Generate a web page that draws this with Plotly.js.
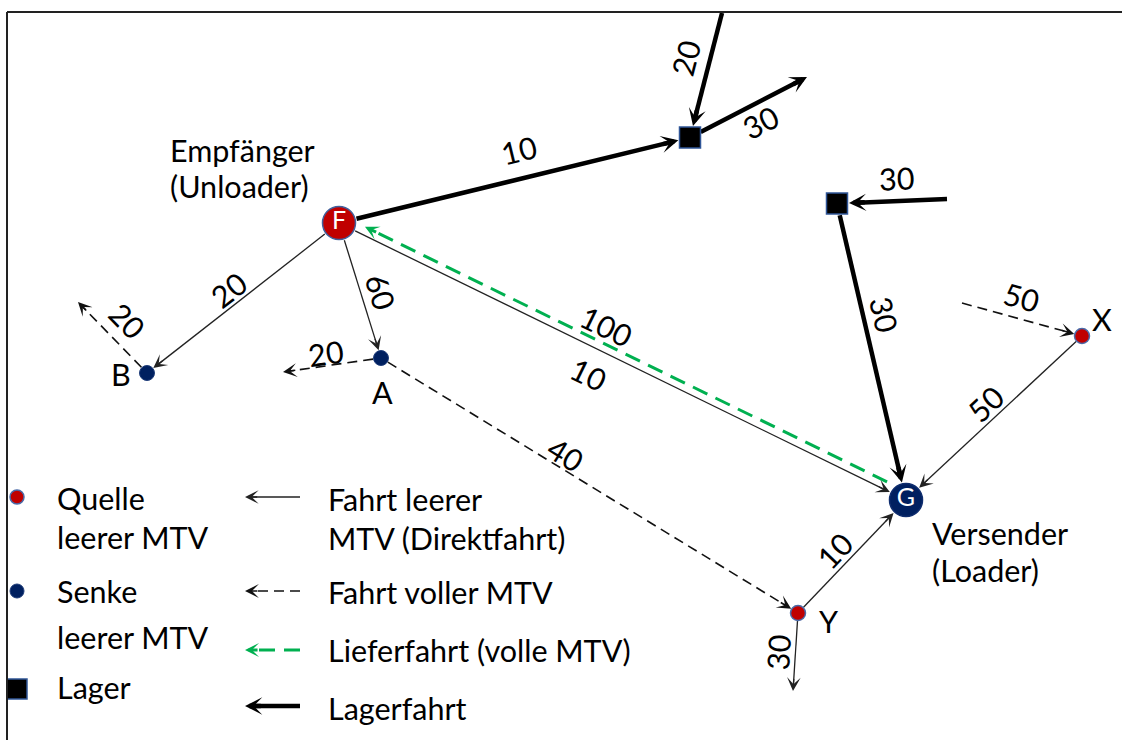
<!DOCTYPE html>
<html><head><meta charset="utf-8">
<script src="https://cdn.plot.ly/plotly-3.0.1.min.js"></script>
<style>html,body{margin:0;padding:0;background:#fff}#chart{width:1122px;height:740px}</style>
</head><body><div id="chart"></div>
<script>
// ---------------- DATA ----------------
// network nodes (diagram coordinates)
const nodeNames = ['F','G','L1','L2','A','B','X','Y','e1','e2','e3','e4','e5','e6','e7'];
const nodeX     = [339, 906, 690, 837, 381, 147, 1082, 798, 722, 807, 947, 793, 283, 78, 962];
const nodeY     = [223, 500, 137.5, 203.5, 358, 373, 336, 613, 13, 77, 199, 691, 372, 302, 303];
const nodeKind  = ['quelleBig','senkeBig','lager','lager','senke','senke','quelle','quelle',
                   'ext','ext','ext','ext','ext','ext','ext'];
const nodeLetter = {F:'F', G:'G'};
const nodeTag    = {A:'A', B:'B', X:'X', Y:'Y'};
const nodeCaption = {F:['Empfänger','(Unloader)'], G:['Versender','(Loader)']};

// edges (flows)
const edgeFrom  = ['F','e1','L1','e3','L2','F','F','F','G','X','Y','Y','A','A','B','e7'];
const edgeTo    = ['L1','L1','e2','L2','G','B','A','G','F','G','G','e4','Y','e5','e6','X'];
const edgeValue = [10, 20, 30, 30, 30, 20, 60, 10, 100, 50, 10, 30, 40, 20, 20, 50];
const edgeType  = ['lager','lager','lager','lager','lager','leer','leer','leer','liefer',
                   'leer','leer','leer','voll','voll','voll','voll'];

// legend
const legendNodeKinds  = ['quelle','senke','lager'];
const legendNodeLines  = [['Quelle','leerer MTV'],['Senke','leerer MTV'],['Lager']];
const legendEdgeTypes  = ['leer','voll','liefer','lager'];
const legendEdgeLines  = [['Fahrt leerer','MTV (Direktfahrt)'],['Fahrt voller MTV'],
                          ['Lieferfahrt (volle MTV)'],['Lagerfahrt']];

// ---------------- LAYOUT / STYLE CONFIG ----------------
const FONT = 'Lato, "Open Sans", sans-serif';
const FS = 30.5;
const kindStyle = {
  quelleBig:{size:33, color:'#c00000', line:'#41609c', lw:1.5, symbol:'circle', r:18},
  senkeBig: {size:33, color:'#002060', line:'#0f2d6e', lw:1.5, symbol:'circle', r:18},
  quelle:   {size:15, color:'#c00000', line:'#4a6aa8', lw:1.5, symbol:'circle', r:8},
  senke:    {size:15, color:'#002060', line:'#1f3d7a', lw:1,   symbol:'circle', r:8},
  lager:    {size:21, color:'#000000', line:'#2f5597', lw:1.5, symbol:'square', r:12},
  ext:      {r:0}
};
const edgeStyle = {
  leer:   {color:'#222', width:1.3, dash:'solid',     head:1.75, gap:0},
  voll:   {color:'#111', width:1.6, dash:'10px,6px',  head:1.45, gap:0},
  liefer: {color:'#00b050', width:3, dash:'16px,9px', head:0.78, gap:7},
  lager:  {color:'#000', width:4.5, dash:'solid',     head:0.64, gap:0}
};
// per-edge drawing: parallel offset of the line, label position (fraction, normal offset)
const edgeOffset = [0,0,0,0,0,0,0,0,-8,0,0,0,0,0,0,0];
const labelT     = [.53,.41,.53,.455,.389,.528,.554,.46,.548,.487,.446,.527,.424,.551,.524,.452];
const labelD     = [29,-24,-19,-23,21,-15.5,19.6,-26.4,-16.6,-16.4,16.8,-17.4,14,-13,-22.6,21.7];

const legendMarkX = 17, legendMarkY = [497, 591, 689];
const legendNodeTextX = 55, legendNodeTextY = [[498,537],[591,637],[687]];
const legendArrowX = [300, 245], legendArrowY = [497, 591, 650, 706];
const legendEdgeTextX = 326, legendEdgeTextY = [[499,538],[592],[650],[708]];
const captionPos = {F:[168,[150,186]], G:[930,[533,570]]};
const tagPos = {A:[382,392], B:[121,374], X:[1102,319], Y:[828,621]};

// ---------------- BUILD ----------------
const idx = {}; nodeNames.forEach((n,i)=>idx[n]=i);
const traces = [], annotations = [];
const lineBuf = {}; Object.keys(edgeStyle).forEach(k=>lineBuf[k]={x:[],y:[]});

function addArrow(type, p, q, trimA, trimB, off) {
  const st = edgeStyle[type];
  const dx=q[0]-p[0], dy=q[1]-p[1], L=Math.hypot(dx,dy);
  const ux=dx/L, uy=dy/L, nx=uy, ny=-ux;
  const a=[p[0]+ux*trimA+nx*off, p[1]+uy*trimA+ny*off];
  const tip=[q[0]-ux*trimB+nx*off, q[1]-uy*trimB+ny*off];
  const scale = st.width*st.head;
  const lineEnd=[tip[0]-ux*3*scale, tip[1]-uy*3*scale];
  lineBuf[type].x.push(a[0], lineEnd[0], null);
  lineBuf[type].y.push(a[1], lineEnd[1], null);
  annotations.push({x:tip[0], y:tip[1], ax:tip[0]-ux*6*scale, ay:tip[1]-uy*6*scale,
    xref:'x', yref:'y', axref:'x', ayref:'y', text:'', showarrow:true,
    arrowhead:3, arrowsize:st.head, arrowwidth:st.width, arrowcolor:st.color, standoff:0});
  return {ux,uy,nx,ny,L};
}

edgeFrom.forEach((f,i)=>{
  const a=idx[f], b=idx[edgeTo[i]];
  const st=edgeStyle[edgeType[i]];
  const p=[nodeX[a],nodeY[a]], q=[nodeX[b],nodeY[b]];
  const rA=kindStyle[nodeKind[a]].r, rB=kindStyle[nodeKind[b]].r;
  const g=addArrow(edgeType[i], p, q, rA? rA+st.gap:0, rB? rB+st.gap:0, edgeOffset[i]);
  const d=edgeOffset[i]+labelD[i];
  const lx=p[0]+g.ux*labelT[i]*g.L+g.nx*d, ly=p[1]+g.uy*labelT[i]*g.L+g.ny*d;
  let ang=Math.atan2(g.uy,g.ux)*180/Math.PI;
  if (ang>90) ang-=180; if (ang<-90) ang+=180;
  annotations.push({x:lx, y:ly, xref:'x', yref:'y', text:String(edgeValue[i]), showarrow:false,
    textangle:ang, xanchor:'center', yanchor:'middle', font:{family:FONT,size:FS,color:'#000'}});
});

// legend arrows
legendEdgeTypes.forEach((t,i)=>{
  addArrow(t, [legendArrowX[0],legendArrowY[i]], [legendArrowX[1],legendArrowY[i]], 0, 0, 0);
});

Object.keys(lineBuf).forEach(k=>{
  const st=edgeStyle[k];
  traces.push({type:'scatter', mode:'lines', x:lineBuf[k].x, y:lineBuf[k].y, hoverinfo:'skip',
    line:{color:st.color, width:st.width, dash:st.dash}, cliponaxis:false, connectgaps:false});
});

// nodes
const kinds = ['quelleBig','senkeBig','quelle','senke','lager'];
kinds.forEach(k=>{
  const xs=[], ys=[], tx=[];
  nodeNames.forEach((n,i)=>{ if(nodeKind[i]===k){ xs.push(nodeX[i]); ys.push(nodeY[i]); tx.push(nodeLetter[n]||''); }});
  const s=kindStyle[k];
  traces.push({type:'scatter', mode:'markers+text', x:xs, y:ys, text:tx, textposition:'middle center',
    textfont:{family:FONT, size:25, color:'#fff'}, hoverinfo:'skip', cliponaxis:false,
    marker:{size:s.size, color:s.color, symbol:s.symbol, line:{color:s.line, width:s.lw}}});
});
// legend markers
legendNodeKinds.forEach((k,i)=>{
  const s=kindStyle[k];
  traces.push({type:'scatter', mode:'markers', x:[legendMarkX], y:[legendMarkY[i]], hoverinfo:'skip',
    cliponaxis:false,
    marker:{size:k==='lager'?20:14, color:s.color, symbol:s.symbol, line:{color:s.line, width:s.lw}}});
});

function txt(x,y,t){
  annotations.push({x:x, y:y, xref:'x', yref:'y', text:t, showarrow:false, xanchor:'left',
    yanchor:'middle', font:{family:FONT,size:FS,color:'#000'}});
}
legendNodeLines.forEach((ls,i)=>ls.forEach((t,j)=>txt(legendNodeTextX, legendNodeTextY[i][j], t)));
legendEdgeLines.forEach((ls,i)=>ls.forEach((t,j)=>txt(legendEdgeTextX, legendEdgeTextY[i][j], t)));
Object.keys(nodeCaption).forEach(n=>nodeCaption[n].forEach((t,j)=>txt(captionPos[n][0], captionPos[n][1][j], t)));
Object.keys(nodeTag).forEach(n=>{
  annotations.push({x:tagPos[n][0], y:tagPos[n][1], xref:'x', yref:'y', text:nodeTag[n], showarrow:false,
    xanchor:'center', yanchor:'middle', font:{family:FONT,size:FS,color:'#000'}});
});

const layout = {
  width:1122, height:740, margin:{l:0,r:0,t:0,b:0},
  paper_bgcolor:'#fff', plot_bgcolor:'#fff', showlegend:false,
  xaxis:{range:[0,1122], visible:false, fixedrange:true},
  yaxis:{range:[740,0], visible:false, fixedrange:true},
  annotations:annotations,
  shapes:[
    {type:'line', xref:'x', yref:'y', x0:7, y0:12, x1:1122, y1:12, line:{color:'#222', width:2}},
    {type:'line', xref:'x', yref:'y', x0:7, y0:12, x1:7, y1:740, line:{color:'#222', width:2}}
  ]
};
Plotly.newPlot('chart', traces, layout, {displayModeBar:false, staticPlot:true});
</script></body></html>
